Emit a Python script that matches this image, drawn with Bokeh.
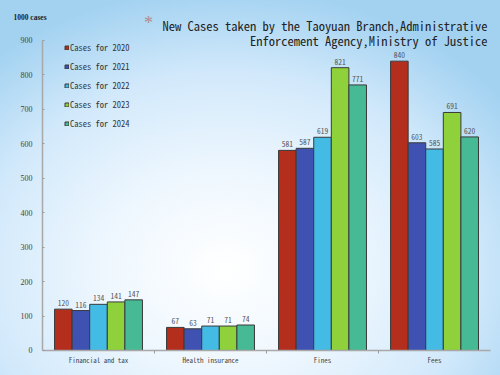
from bokeh.plotting import figure
from bokeh.models import (Range1d, FixedTicker, Legend, LegendItem, Label,
                          ColumnDataSource, InlineStyleSheet)
from bokeh.core.properties import value
from bokeh.embed import file_html
from bokeh.resources import INLINE

categories = ["Financial and tax", "Health insurance", "Fines", "Fees"]
series_names = ["Cases for 2020", "Cases for 2021", "Cases for 2022",
                "Cases for 2023", "Cases for 2024"]
cases_2020 = [120, 67, 581, 840]
cases_2021 = [116, 63, 587, 603]
cases_2022 = [134, 71, 619, 585]
cases_2023 = [141, 71, 821, 691]
cases_2024 = [147, 74, 771, 620]
y_ticks = [0, 100, 200, 300, 400, 500, 600, 700, 800, 900]
series_values = [cases_2020, cases_2021, cases_2022, cases_2023, cases_2024]
colors = ["#B32E1C", "#3F52B2", "#43BBE5", "#8FD13A", "#46B995"]

MONO = "'Noto Sans Mono CJK SC', 'Liberation Mono', monospace"

css = InlineStyleSheet(css=""":host {
  background: radial-gradient(ellipse 70% 75% at 45% 72%, #ffffff 0%, #eef7fe 35%, #d2e9fb 70%, #a3d2f1 100%);
}""")

p = figure(width=500, height=375, output_backend="svg", toolbar_location=None,
           x_range=Range1d(-0.375, 4.089), y_range=Range1d(-72.6, 1016.1),
           min_border=0, stylesheets=[css])
p.background_fill_color = None
p.border_fill_color = None
p.outline_line_color = None
p.grid.visible = False

bw = 0.157
items = []
for j, (name, vals, col) in enumerate(zip(series_names, series_values, colors)):
    xs = [i + 0.5 + (j - 2) * bw for i in range(len(categories))]
    src = ColumnDataSource(dict(x=xs, top=vals, lab=[str(v) for v in vals]))
    r = p.vbar(x="x", top="top", width=bw, source=src, fill_color=col,
               line_color="#3a3a3a", line_width=1)
    p.text(x="x", y="top", text="lab", source=src, text_align="center",
           text_baseline="bottom", y_offset=-3, text_font=value(MONO),
           text_font_size="7.5px", text_color="#555555")
    items.append(LegendItem(label=name, renderers=[r]))

legend = Legend(items=items, location=(64, 246), glyph_width=5, glyph_height=5,
                label_standoff=1, label_height=10, spacing=7, padding=0,
                background_fill_alpha=0, border_line_color=None,
                label_text_font=MONO, label_text_font_size="8.5px",
                label_text_color="#333333", margin=0)
p.add_layout(legend)

# axes
xa = p.xaxis[0]
xa.fixed_location = 0
xa.bounds = (0, 4)
xa.ticker = FixedTicker(ticks=[i + 0.5 for i in range(len(categories))],
                        minor_ticks=[1, 2, 3])
xa.major_label_overrides = {i + 0.5: c for i, c in enumerate(categories)}
xa.major_tick_line_color = None
xa.minor_tick_out = 3
xa.minor_tick_in = 0
xa.minor_tick_line_color = "#9a9a9a"
xa.axis_line_color = "#a8a8a8"
xa.axis_line_width = 1.5
xa.major_label_standoff = -1
xa.major_label_text_font = MONO
xa.major_label_text_font_size = "7px"
xa.major_label_text_color = "#444444"

ya = p.yaxis[0]
ya.fixed_location = 0
ya.bounds = (0, 900)
ya.ticker = FixedTicker(ticks=y_ticks)
ya.major_tick_in = 2
ya.major_tick_out = 0
ya.minor_tick_line_color = None
ya.major_tick_line_color = "#9a9a9a"
ya.axis_line_color = "#a8a8a8"
ya.axis_line_width = 1.5
ya.major_label_standoff = 10
ya.major_label_text_font = "Liberation Serif"
ya.major_label_text_font_size = "8px"
ya.major_label_text_color = "#444444"

# titles
title_font = dict(text_align="right", text_baseline="middle", text_font=MONO,
                  text_font_size="12.5px", text_color="#222222")
p.add_layout(Label(x=3.973, y=943.5,
                   text="New Cases taken by the Taoyuan Branch,Administrative",
                   **title_font))
p.add_layout(Label(x=3.973, y=900, text="Enforcement Agency,Ministry of Justice",
                   **title_font))
p.add_layout(Label(x=0.946, y=952, text="*", text_align="center",
                   text_baseline="middle", text_font="Liberation Serif",
                   text_font_size="18px", text_color="#B08A8A"))
p.add_layout(Label(x=-0.259, y=966.8, text="1000 cases", text_align="left",
                   text_baseline="middle", text_font="Liberation Serif",
                   text_font_size="7.5px", text_font_style="bold",
                   text_color="#222222"))

open("out.html", "w").write(file_html(p, INLINE))
